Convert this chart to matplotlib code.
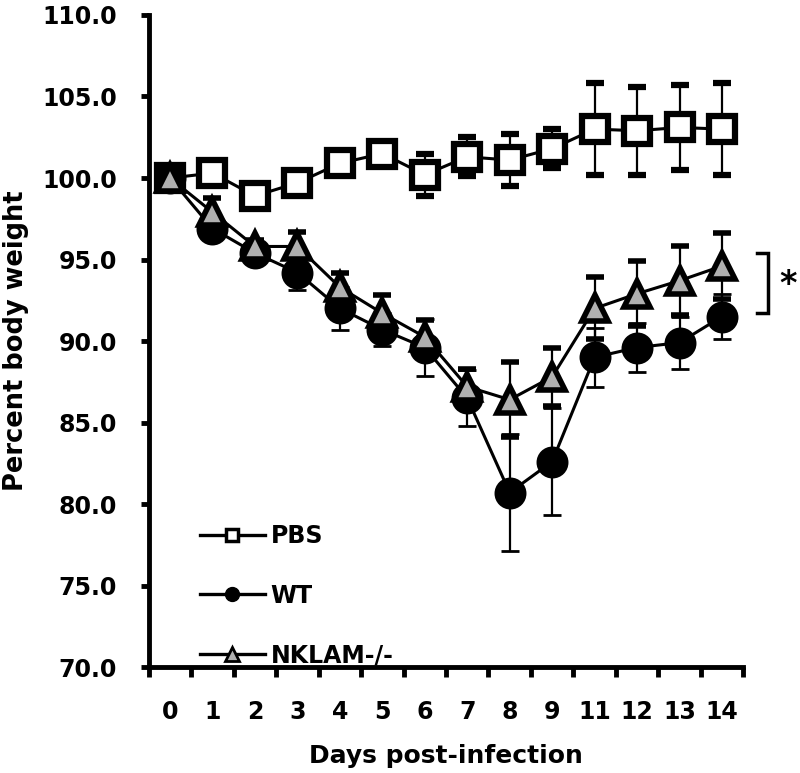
import matplotlib
matplotlib.use("Agg")
import matplotlib.pyplot as plt
import numpy as np
from matplotlib.lines import Line2D

days = ["0", "1", "2", "3", "4", "5", "6", "7", "8", "9", "11", "12", "13", "14"]

pbs = [100.0, 100.3, 98.9, 99.7, 100.9, 101.5, 100.2, 101.3, 101.1, 101.8, 103.0, 102.9, 103.1, 103.0]
pbs_err = [0.3, 0.5, 0.3, 0.3, 0.3, 0.3, 1.3, 1.2, 1.6, 1.2, 2.8, 2.7, 2.6, 2.8]

wt = [100.0, 96.9, 95.4, 94.2, 92.0, 90.7, 89.6, 86.5, 80.7, 82.6, 89.0, 89.6, 89.9, 91.5]
wt_err = [0.3, 0.5, 0.5, 1.1, 1.3, 1.0, 1.75, 1.7, 3.6, 3.3, 1.8, 1.5, 1.6, 1.4]

nklam = [100.0, 97.9, 95.8, 95.8, 93.3, 91.7, 90.25, 87.2, 86.4, 87.8, 92.0, 92.9, 93.7, 94.6]
nklam_err = [0.3, 0.9, 0.4, 0.9, 0.9, 1.1, 1.05, 1.1, 2.3, 1.8, 1.9, 2.0, 2.1, 2.0]

yticks = [70.0, 75.0, 80.0, 85.0, 90.0, 95.0, 100.0, 105.0, 110.0]

fig = plt.figure(figsize=(8, 7.73), dpi=100)
ax = fig.add_axes([0.186, 0.1371, 0.743, 0.8435])
x = np.arange(len(days))

common = dict(color="black", lw=2.2, elinewidth=1.6, capsize=6.2, capthick=1.6)
ax.errorbar(x, pbs, yerr=pbs_err, marker="s", ms=18.5, mfc="white", mec="black",
            mew=4.5, zorder=3, label="PBS", **common)
ax.errorbar(x, wt, yerr=wt_err, marker="o", ms=21, mfc="black", mec="black",
            mew=2, zorder=4, label="WT", **common)
ax.errorbar(x, nklam, yerr=nklam_err, marker="^", ms=19, mfc="#b0b0b0", mec="black",
            mew=4, zorder=5, label="NKLAM-/-", **common)

ax.set_xlim(-0.5, len(days) - 0.5)
ax.set_ylim(70, 110)
ax.set_xticks(np.arange(-0.5, len(days), 1.0))
ax.set_xticklabels([])
ax.set_xticks(x, minor=True)
ax.set_xticklabels(days, minor=True, fontsize=17, fontweight="bold")
ax.tick_params(axis="x", which="minor", length=0, pad=24)
ax.tick_params(axis="x", which="major", length=7, width=3.5, direction="out")
ax.set_yticks(yticks)
ax.set_yticklabels([f"{v:.1f}" for v in yticks], fontsize=17, fontweight="bold")
ax.tick_params(axis="y", length=6, width=3.5, direction="out", pad=17)

for s in ["top", "right"]:
    ax.spines[s].set_visible(False)
for s in ["left", "bottom"]:
    ax.spines[s].set_linewidth(3.5)

ax.set_ylabel("Percent body weight", fontsize=18.5, fontweight="bold")
ax.set_xlabel("Days post-infection", fontsize=18, fontweight="bold")
ax.yaxis.set_label_coords(-0.202, 0.50)
ax.xaxis.set_label_coords(0.5, -0.118)

handles = [
    Line2D([], [], color="black", lw=2.4, marker="s", ms=8, mfc="white", mec="black", mew=2.5),
    Line2D([], [], color="black", lw=2.4, marker="o", ms=10, mfc="black"),
    Line2D([], [], color="black", lw=2.4, marker="^", ms=10, mfc="#b0b0b0", mec="black", mew=2),
]
leg = ax.legend(handles, ["PBS", "WT", "NKLAM-/-"], loc="lower left",
                bbox_to_anchor=(0.086, 0.0), frameon=False, borderpad=0,
                borderaxespad=0, handlelength=2.75, handletextpad=0.25,
                labelspacing=1.5, prop=dict(size=17, weight="bold"))

# significance bracket between NKLAM and WT at day 14
i = len(days) - 1
yt, yb = 95.4, 91.7
bx0, bx1 = i + 0.82, i + 1.08
ax.plot([bx0, bx1, bx1, bx0], [yt, yt, yb, yb], color="black", lw=2.5,
        clip_on=False, solid_joinstyle="miter")
ax.text(i + 1.55, (yt + yb) / 2 - 0.1, "*", fontsize=24, fontweight="bold",
        ha="center", va="center", clip_on=False)

fig.savefig("out.png", dpi=100)
